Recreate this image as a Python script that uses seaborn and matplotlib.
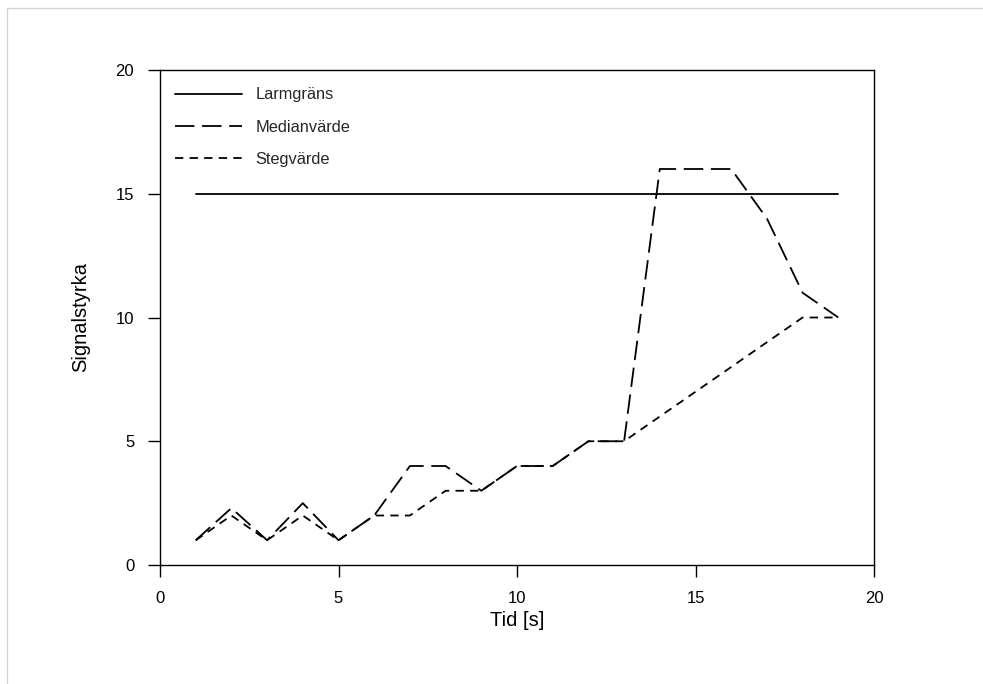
import matplotlib
matplotlib.use("Agg")
import matplotlib.pyplot as plt
import seaborn as sns
import pandas as pd
from matplotlib.lines import Line2D

# Data
tid = list(range(1, 20))
larmgrans = [15] * 19
medianvarde = [1, 2.3, 1, 2.5, 1, 2, 4, 4, 3, 4, 4, 5, 5, 16, 16, 16, 14, 11, 10]
stegvarde = [1, 2, 1, 2, 1, 2, 2, 3, 3, 4, 4, 5, 5, 6, 7, 8, 9, 10, 10]
series_names = ["Larmgräns", "Medianvärde", "Stegvärde"]
x_ticks = [0, 5, 10, 15, 20]
y_ticks = [0, 5, 10, 15, 20]

sns.set_theme(style="white")
plt.rcParams['font.family'] = ['Liberation Sans', 'DejaVu Sans']
plt.rcParams['lines.scale_dashes'] = False

df = pd.concat([
    pd.DataFrame({"Tid": tid, "Värde": vals, "Serie": name})
    for name, vals in zip(series_names, [larmgrans, medianvarde, stegvarde])
], ignore_index=True)

fig = plt.figure(figsize=(9.83, 6.84), dpi=100)
ax = fig.add_axes([160/983, 1 - 565/684, (874-160)/983, (565-70)/684])

dash_map = {"Larmgräns": "", "Medianvärde": (14, 5.5), "Stegvärde": (6, 4.5)}
sns.lineplot(data=df, x="Tid", y="Värde", style="Serie", style_order=series_names,
             dashes=dash_map, color="black", linewidth=1.3, ax=ax, legend=True)

ax.set_xlim(0, 20)
ax.set_ylim(0, 20)
ax.set_xticks(x_ticks)
ax.set_yticks(y_ticks)
ax.tick_params(axis='both', which='major', direction='out', length=8.6, width=1,
               color='black', labelsize=12, labelcolor='black', pad=10,
               bottom=True, left=True)
for s in ax.spines.values():
    s.set_color('black')
    s.set_linewidth(1)
ax.set_xlabel("Tid [s]", fontsize=14.5, color='black', labelpad=4)
ax.set_ylabel("Signalstyrka", fontsize=14.5, color='black', labelpad=18)

leg = ax.legend(loc='upper left', bbox_to_anchor=(0.012, 0.978), frameon=False,
                fontsize=11.8, handlelength=4.1, handletextpad=0.8, labelspacing=1.05,
                borderaxespad=0)
for line in leg.get_lines():
    line.set_linewidth(1.3)

# light frame around figure
fig.add_artist(Line2D([7/983, 1.0], [1 - 8/684, 1 - 8/684], color='#d4d4d4', linewidth=1,
                      transform=fig.transFigure))
fig.add_artist(Line2D([7/983, 7/983], [0.0, 1 - 8/684], color='#d4d4d4', linewidth=1,
                      transform=fig.transFigure))

fig.savefig("out.png", dpi=100)
